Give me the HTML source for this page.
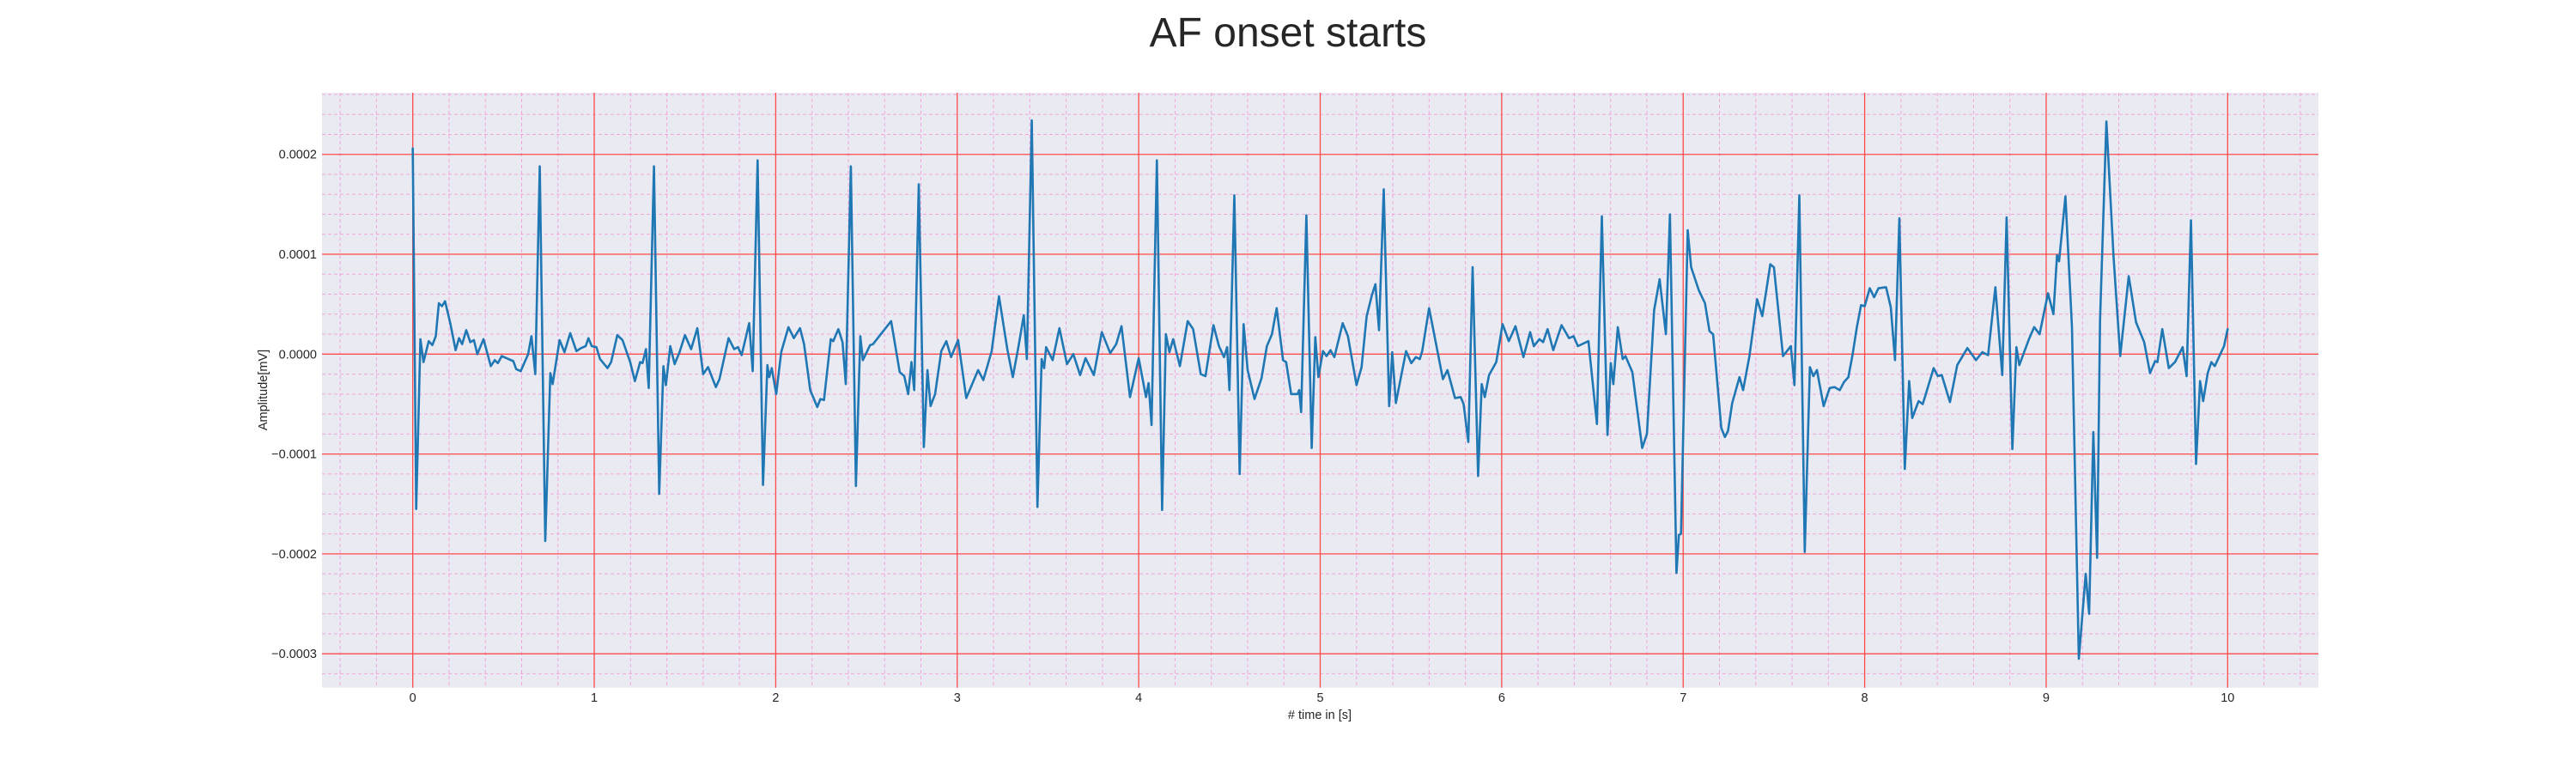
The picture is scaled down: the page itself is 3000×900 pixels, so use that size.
<!DOCTYPE html>
<html><head><meta charset="utf-8"><style>
html,body{margin:0;padding:0;background:#fff;}
svg{display:block;font-family:"Liberation Sans",Arial,sans-serif;}
</style></head><body>
<svg id="chart" width="3000" height="900" viewBox="0 0 3000 900" xmlns="http://www.w3.org/2000/svg">
<text x="1500" y="54" font-size="48" text-anchor="middle" fill="#262626">AF onset starts</text>
<rect x="375" y="108" width="2325" height="692.7" fill="#eaeaf2"/>
<g id="grid"></g>
<g id="ticks"></g>
<g id="series"></g>
<text x="1537" y="837" font-size="14.5" text-anchor="middle" fill="#262626"># time in [s]</text>
<text transform="translate(311,454) rotate(-90)" font-size="14.5" text-anchor="middle" fill="#262626">Amplitude[mV]</text>
</svg>
<script>
const xTickValues=[0,1,2,3,4,5,6,7,8,9,10];
const xTickLabels=["0","1","2","3","4","5","6","7","8","9","10"];
const yTickValues=[2,1,0,-1,-2,-3];
const yTickLabels=["0.0002","0.0001","0.0000","\u22120.0001","\u22120.0002","\u22120.0003"];
const timeS=[0,0.019,0.042,0.059,0.088,0.108,0.127,0.144,0.161,0.178,0.207,0.236,0.255,0.272,0.295,0.317,0.337,0.356,0.39,0.43,0.452,0.469,0.49,0.554,0.57,0.595,0.636,0.654,0.675,0.70,0.73,0.758,0.771,0.809,0.836,0.868,0.902,0.927,0.953,0.968,0.986,1.012,1.032,1.073,1.093,1.127,1.156,1.198,1.224,1.253,1.266,1.285,1.3,1.329,1.358,1.381,1.395,1.419,1.443,1.47,1.5,1.534,1.568,1.6,1.627,1.67,1.69,1.74,1.771,1.792,1.812,1.854,1.873,1.9,1.93,1.954,1.964,1.978,2.003,2.03,2.07,2.1,2.134,2.156,2.19,2.229,2.246,2.266,2.303,2.317,2.345,2.368,2.386,2.414,2.442,2.466,2.48,2.52,2.536,2.575,2.636,2.683,2.708,2.73,2.748,2.763,2.788,2.816,2.836,2.853,2.878,2.912,2.94,2.966,3.005,3.05,3.115,3.144,3.19,3.23,3.276,3.306,3.338,3.367,3.384,3.411,3.442,3.465,3.479,3.49,3.526,3.563,3.605,3.64,3.677,3.707,3.753,3.797,3.843,3.876,3.905,3.952,4.0,4.04,4.054,4.071,4.1,4.129,4.15,4.169,4.19,4.227,4.27,4.3,4.342,4.368,4.412,4.442,4.47,4.487,4.5,4.527,4.556,4.578,4.6,4.638,4.677,4.706,4.734,4.76,4.795,4.812,4.84,4.875,4.884,4.895,4.924,4.953,4.973,4.99,5.015,5.035,5.057,5.078,5.124,5.153,5.2,5.228,5.256,5.285,5.304,5.324,5.35,5.38,5.397,5.417,5.473,5.502,5.527,5.549,5.562,5.6,5.676,5.701,5.743,5.774,5.79,5.816,5.84,5.87,5.89,5.907,5.93,5.97,6.005,6.039,6.076,6.12,6.157,6.177,6.208,6.228,6.253,6.284,6.33,6.371,6.396,6.42,6.478,6.525,6.552,6.583,6.601,6.615,6.64,6.667,6.682,6.72,6.774,6.8,6.84,6.87,6.905,6.927,6.963,6.976,6.988,7.025,7.044,7.086,7.12,7.145,7.165,7.21,7.23,7.247,7.27,7.31,7.33,7.365,7.407,7.436,7.48,7.5,7.55,7.593,7.613,7.64,7.67,7.698,7.717,7.737,7.774,7.807,7.834,7.863,7.886,7.91,7.934,7.957,7.98,8.0,8.028,8.052,8.076,8.118,8.144,8.167,8.191,8.221,8.245,8.262,8.297,8.32,8.34,8.38,8.403,8.425,8.47,8.51,8.566,8.613,8.648,8.68,8.72,8.758,8.782,8.814,8.836,8.852,8.905,8.934,8.964,9.01,9.04,9.06,9.071,9.106,9.142,9.18,9.218,9.237,9.26,9.281,9.297,9.332,9.371,9.408,9.455,9.495,9.54,9.572,9.6,9.613,9.64,9.676,9.71,9.752,9.774,9.798,9.826,9.848,9.865,9.89,9.91,9.929,9.98,10.0];
const amp1e4=[2.06,-1.55,0.15,-0.08,0.13,0.09,0.18,0.51,0.48,0.53,0.31,0.04,0.16,0.10,0.24,0.12,0.14,0.0,0.15,-0.12,-0.06,-0.09,-0.02,-0.07,-0.15,-0.17,0.0,0.18,-0.2,1.88,-1.87,-0.19,-0.3,0.14,0.02,0.21,0.03,0.06,0.08,0.16,0.08,0.07,-0.05,-0.14,-0.08,0.19,0.14,-0.08,-0.27,-0.08,-0.09,0.05,-0.34,1.88,-1.4,-0.12,-0.31,0.08,-0.1,0.02,0.19,0.05,0.26,-0.2,-0.13,-0.33,-0.25,0.16,0.05,0.07,-0.01,0.31,-0.17,1.94,-1.31,-0.11,-0.23,-0.14,-0.4,0.02,0.27,0.16,0.26,0.1,-0.36,-0.53,-0.45,-0.46,0.15,0.13,0.25,0.12,-0.3,1.88,-1.32,0.18,-0.06,0.09,0.1,0.19,0.33,-0.18,-0.22,-0.4,-0.08,-0.36,1.7,-0.93,-0.16,-0.52,-0.4,0.03,0.13,-0.03,0.14,-0.44,-0.16,-0.26,0.03,0.58,0.05,-0.23,0.08,0.39,-0.05,2.34,-1.53,-0.05,-0.14,0.07,-0.06,0.26,-0.1,0.0,-0.21,-0.04,-0.21,0.22,0.01,0.1,0.28,-0.43,-0.04,-0.43,-0.29,-0.71,1.94,-1.56,0.2,0.02,0.15,-0.12,0.33,0.25,-0.2,-0.22,0.29,0.08,-0.03,0.07,-0.36,1.59,-1.2,0.3,-0.16,-0.45,-0.24,0.08,0.2,0.46,-0.06,-0.08,-0.4,-0.4,-0.36,-0.58,1.39,-0.94,0.17,-0.23,0.03,-0.02,0.04,-0.03,0.31,0.18,-0.31,-0.13,0.38,0.59,0.7,0.24,1.65,-0.52,0.02,-0.49,0.03,-0.09,-0.03,-0.05,0.03,0.46,-0.25,-0.16,-0.44,-0.43,-0.5,-0.88,0.87,-1.22,-0.3,-0.43,-0.21,-0.08,0.3,0.13,0.28,-0.03,0.22,0.08,0.15,0.12,0.25,0.04,0.29,0.16,0.18,0.08,0.13,-0.7,1.38,-0.81,-0.09,-0.3,0.27,-0.05,-0.02,-0.18,-0.94,-0.8,0.44,0.75,0.2,1.4,-2.19,-1.81,-1.8,1.24,0.87,0.64,0.51,0.23,0.2,-0.74,-0.83,-0.77,-0.49,-0.23,-0.36,-0.02,0.55,0.38,0.9,0.87,-0.02,0.08,-0.31,1.59,-1.98,-0.13,-0.22,-0.16,-0.52,-0.34,-0.33,-0.36,-0.28,-0.23,0.0,0.27,0.49,0.48,0.66,0.57,0.66,0.67,0.47,-0.06,1.36,-1.15,-0.27,-0.64,-0.47,-0.5,-0.38,-0.14,-0.22,-0.21,-0.48,-0.11,0.06,-0.06,0.02,-0.01,0.67,-0.21,1.37,-0.95,0.07,-0.11,0.15,0.27,0.2,0.61,0.4,0.99,0.93,1.58,0.27,-3.05,-2.2,-2.6,-0.78,-2.04,0.34,2.33,0.98,-0.02,0.78,0.32,0.12,-0.19,-0.07,-0.08,0.25,-0.14,-0.08,0.07,-0.22,1.34,-1.1,-0.27,-0.47,-0.19,-0.08,-0.12,0.08,0.25];

const L=375,R=2700,T=108,B=800.7;
const X0=-0.5,X1=10.5,Y0=-3.34,Y1=2.617;
function xs(t){return L+(t-X0)/(X1-X0)*(R-L);}
function ys(v){return B-(v-Y0)/(Y1-Y0)*(B-T);}
const NS="http://www.w3.org/2000/svg";
const grid=document.getElementById('grid');
const ticks=document.getElementById('ticks');
function mk(tag,attrs,parent){const e=document.createElementNS(NS,tag);for(const k in attrs)e.setAttribute(k,attrs[k]);parent.appendChild(e);return e;}
// minor grid
for(let i=-2;i<=52;i++){const t=i*0.2;if(t<X0||t>X1)continue;if(Math.abs(t-Math.round(t))<1e-6)continue;
 const ln=mk('line',{x1:xs(t),x2:xs(t),y1:T,y2:B,stroke:'#f2a6dc','stroke-width':1,'stroke-dasharray':'4,3'},grid);
 
 }
for(let i=-17;i<=13;i++){const v=i*0.2;if(v<Y0||v>Y1)continue;if(Math.abs(v-Math.round(v))<1e-6)continue;
 const ln=mk('line',{x1:L,x2:R,y1:ys(v),y2:ys(v),stroke:'#f2a6dc','stroke-width':1,'stroke-dasharray':'4,3'},grid);
 
 }
// major grid + tick labels
xTickValues.forEach((t,i)=>{
 const ln=mk('line',{x1:xs(t),x2:xs(t),y1:T,y2:B,stroke:'#ff4a4a','stroke-width':1.3},grid);
 
 
 const tx=mk('text',{x:xs(t),y:817,'font-size':14.5,'text-anchor':'middle',fill:'#262626'},ticks);
 tx.textContent=xTickLabels[i];
 
 
});
yTickValues.forEach((v,i)=>{
 const ln=mk('line',{x1:L,x2:R,y1:ys(v),y2:ys(v),stroke:'#ff4a4a','stroke-width':1.3},grid);
 
 
 const tx=mk('text',{x:369,y:ys(v)+5,'font-size':14.5,'text-anchor':'end',fill:'#262626'},ticks);
 tx.textContent=yTickLabels[i];
 
 
});
// series
const pts=timeS.map((t,i)=>xs(t).toFixed(1)+','+ys(amp1e4[i]).toFixed(1)).join(' ');
const pl=mk('polyline',{points:pts,fill:'none',stroke:'#1f77b4','stroke-width':2.6,'stroke-linejoin':'round','stroke-linecap':'round'},document.getElementById('series'));


</script>
</body></html>
